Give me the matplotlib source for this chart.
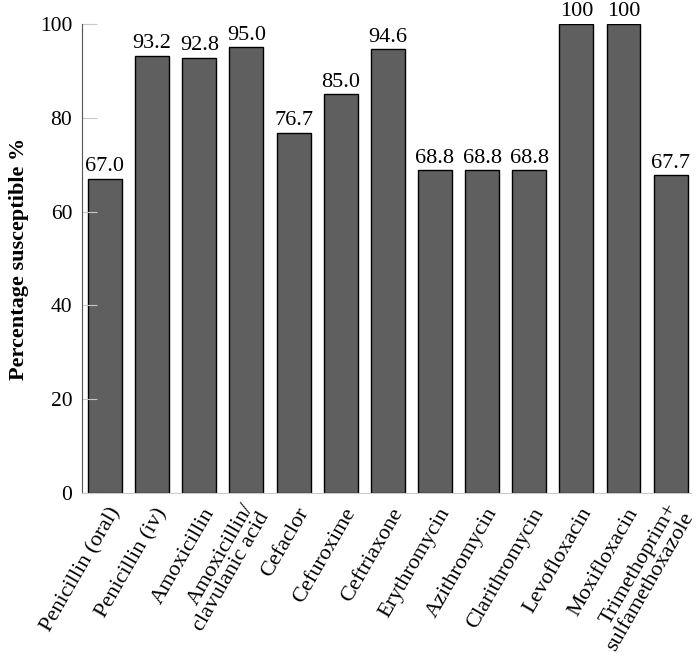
import matplotlib
matplotlib.use("Agg")
import matplotlib.pyplot as plt
import matplotlib.transforms as mtransforms
import numpy as np

drugs = ["Penicillin (oral)", "Penicillin (iv)", "Amoxicillin",
         "Amoxicillin/\nclavulanic acid", "Cefaclor", "Cefuroxime",
         "Ceftriaxone", "Erythromycin", "Azithromycin", "Clarithromycin",
         "Levofloxacin", "Moxifloxacin", "Trimethoprim+\nsulfamethoxazole"]
susceptible = [67.0, 93.2, 92.8, 95.0, 76.7, 85.0, 94.6, 68.8, 68.8, 68.8, 100, 100, 67.7]
value_labels = ["67.0", "93.2", "92.8", "95.0", "76.7", "85.0", "94.6",
                "68.8", "68.8", "68.8", "100", "100", "67.7"]

plt.rcParams["font.family"] = ["Liberation Serif", "DejaVu Serif"]

fig = plt.figure(figsize=(7, 6.63), dpi=100)
ax = fig.add_axes([0.117, 0.2564, 0.87, 0.7074])

x = np.arange(len(drugs))
bars = ax.bar(x, susceptible, width=0.72, color="#5f5f5f", edgecolor="black", linewidth=1)

for b, lab in zip(bars, value_labels):
    ax.text(b.get_x() + b.get_width() / 2, b.get_height() + 0.6, lab,
            ha="center", va="bottom", fontsize=16)

ax.set_xlim(-0.49, 12.43)
ax.set_ylim(0, 100)
ax.set_yticks(np.arange(0, 101, 20))
ax.tick_params(axis="y", direction="in", length=11, color="#c8c8c8", labelsize=15.5, pad=7)
ax.tick_params(axis="x", length=0, pad=6)
ax.set_xticks(x)
ax.set_xticklabels(drugs, rotation=60, ha="right", va="center",
                   rotation_mode="anchor", fontsize=16, multialignment="right",
                   linespacing=0.95)

# nudge the rotated labels right/down like the original
shift = mtransforms.ScaledTranslation(11 / 100, -8 / 100, fig.dpi_scale_trans)
for t in ax.get_xticklabels():
    t.set_transform(t.get_transform() + shift)

for side in ["top", "right"]:
    ax.spines[side].set_visible(False)
ax.spines["left"].set_color("#555555")
ax.spines["bottom"].set_color("#cccccc")

ax.set_ylabel("Percentage susceptible %", fontsize=16, fontweight="bold", labelpad=8)

fig.savefig("out.png", dpi=100)
